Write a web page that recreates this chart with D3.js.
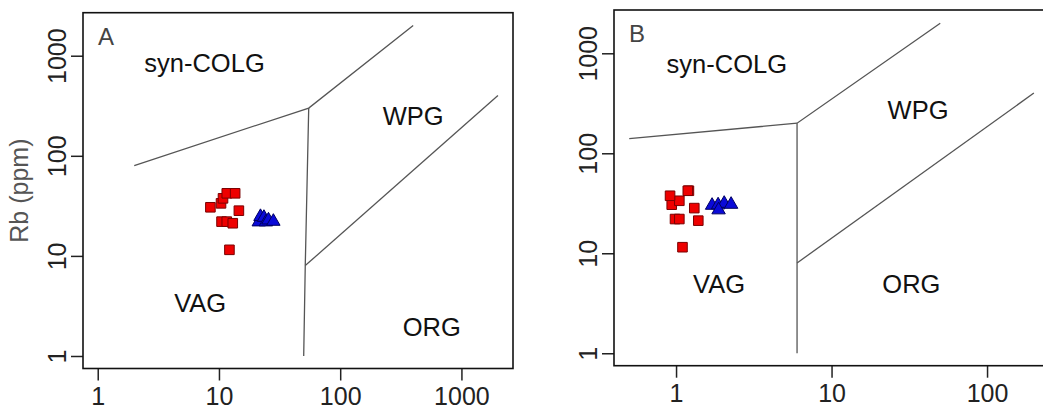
<!DOCTYPE html>
<html>
<head>
<meta charset="utf-8">
<script src="https://cdn.jsdelivr.net/npm/d3@7"></script>
<style>
  html, body { margin: 0; padding: 0; background: #fff; }
  svg { display: block; font-family: "Liberation Sans", Arial, sans-serif; }
</style>
</head>
<body>
<svg id="chart" width="1043" height="409"></svg>
<script>
// ---- data -------------------------------------------------------------
// Panel A: Rb vs Y+Nb ; Panel B: Rb vs Yb+Ta (ppm)
const squareYNb  = [8.5, 10.4, 10.8, 11.6, 13.6, 14.6, 10.5, 11.6, 13.0, 12.2];
const squareYbTa = [0.938, 1.05, 0.915, 1.21, 1.19, 1.31, 0.985, 1.05, 1.39, 1.10];
const squareRb   = [30.6, 33.5, 37.6, 42.2, 42.2, 28.3, 22.0, 22.0, 21.2, 11.5];

const triangleYNb  = [21.3, 22.0, 23.5, 24.4, 25.6, 28.1];
const triangleRbA  = [21.8, 24.7, 24.2, 21.8, 22.8, 22.1];
const triangleYbTa = [1.705, 1.864, 2.04, 2.26, 1.877];
const triangleRbB  = [30.1, 30.4, 31.5, 30.8, 27.1];

// discrimination boundaries (x, Rb)
const boundariesA = [
  [[2, 80], [55, 300], [400, 2000]],
  [[55, 300], [51.5, 8], [50, 1]],
  [[51.5, 8], [2000, 400]]
];
const boundariesB = [
  [[0.5, 140], [6, 200], [50, 2000]],
  [[6, 200], [6, 1]],
  [[6, 8], [200, 400]]
];

const fieldNames = ["syn-COLG", "WPG", "VAG", "ORG"];
const fieldPosA = [[7.6, 690], [400, 203], [7.0, 2.75], [570, 1.58]];
const fieldPosB = [[2.12, 640], [36, 220], [1.89, 4.0], [32.6, 4.0]];

const xTicksA = [1, 10, 100, 1000];
const xTicksB = [1, 10, 100];
const yTicks  = [1, 10, 100, 1000];

// ---- layout -----------------------------------------------------------
const panels = [
  { tag: "A", box: { l: 83, r: 513, t: 12.7, b: 368.5 },
    xDom: [0.756, 2663], yDom: [0.750, 2690], xTicks: xTicksA,
    sq: [squareYNb, squareRb], tri: [triangleYNb, triangleRbA],
    bounds: boundariesA, labels: fieldPosA, yTitle: true },
  { tag: "B", box: { l: 614, r: 1050, t: 10, b: 365.7 },
    xDom: [0.399, 254], yDom: [0.751, 2710], xTicks: xTicksB,
    sq: [squareYbTa, squareRb], tri: [triangleYbTa, triangleRbB],
    bounds: boundariesB, labels: fieldPosB, yTitle: false }
];

const svg = d3.select("#chart");
const fmt = d3.format("d");

panels.forEach(p => {
  const { l, r, t, b } = p.box;
  const x = d3.scaleLog().domain(p.xDom).range([l, r]);
  const y = d3.scaleLog().domain(p.yDom).range([b, t]);
  const g = svg.append("g");

  // x axis
  const gx = g.append("g").attr("transform", `translate(0,${b})`)
    .call(d3.axisBottom(x).tickValues(p.xTicks).tickFormat(fmt).tickSize(12).tickPadding(7));
  gx.select(".domain").remove();
  gx.selectAll(".tick line").attr("stroke", "#222").attr("stroke-width", 1.5);
  gx.selectAll(".tick text").attr("fill", "#222").style("font-size", "25px");

  // y axis with rotated labels
  const gy = g.append("g").attr("transform", `translate(${l},0)`)
    .call(d3.axisLeft(y).tickValues(yTicks).tickFormat(fmt).tickSize(12));
  gy.select(".domain").remove();
  gy.selectAll(".tick line").attr("stroke", "#222").attr("stroke-width", 1.5);
  gy.selectAll(".tick text")
    .attr("x", null).attr("dy", null)
    .attr("text-anchor", "middle")
    .attr("transform", "translate(-17,0) rotate(-90)")
    .attr("fill", "#222").style("font-size", "25px");

  // field boundaries
  const line = d3.line().x(d => x(d[0])).y(d => y(d[1]));
  g.selectAll("path.bound").data(p.bounds).join("path")
    .attr("class", "bound")
    .attr("d", line)
    .attr("fill", "none").attr("stroke", "#555").attr("stroke-width", 1.3);

  // field names
  g.selectAll("text.field").data(p.labels).join("text")
    .attr("class", "field")
    .attr("x", d => x(d[0])).attr("y", d => y(d[1]))
    .attr("text-anchor", "middle")
    .attr("fill", "#111").style("font-size", "25.5px")
    .text((d, i) => fieldNames[i]);

  // samples: red squares
  const sqData = p.sq[0].map((v, i) => [v, p.sq[1][i]]);
  g.selectAll("path.sq").data(sqData).join("path")
    .attr("class", "sq")
    .attr("d", d3.symbol(d3.symbolSquare, 92))
    .attr("transform", d => `translate(${x(d[0])},${y(d[1])})`)
    .attr("fill", "#ee0000").attr("stroke", "#7a0000").attr("stroke-width", 1);

  // samples: blue triangles
  const triData = p.tri[0].map((v, i) => [v, p.tri[1][i]]);
  g.selectAll("path.tri").data(triData).join("path")
    .attr("class", "tri")
    .attr("d", d3.symbol(d3.symbolTriangle, 78))
    .attr("transform", d => `translate(${x(d[0])},${y(d[1])})`)
    .attr("fill", "#0a0ad8").attr("stroke", "#000060").attr("stroke-width", 1);

  // frame
  g.append("rect")
    .attr("x", l).attr("y", t).attr("width", r - l).attr("height", b - t)
    .attr("fill", "none").attr("stroke", "#111").attr("stroke-width", 1.6);

  // panel tag
  g.append("text")
    .attr("x", l + 15).attr("y", t + 32)
    .attr("fill", "#444").style("font-size", "24px")
    .text(p.tag);

  // y title
  if (p.yTitle) {
    g.append("text")
      .attr("transform", `translate(28,${(t + b) / 2}) rotate(-90)`)
      .attr("text-anchor", "middle")
      .attr("fill", "#555").style("font-size", "25px")
      .text("Rb (ppm)");
  }
});
</script>
</body>
</html>
